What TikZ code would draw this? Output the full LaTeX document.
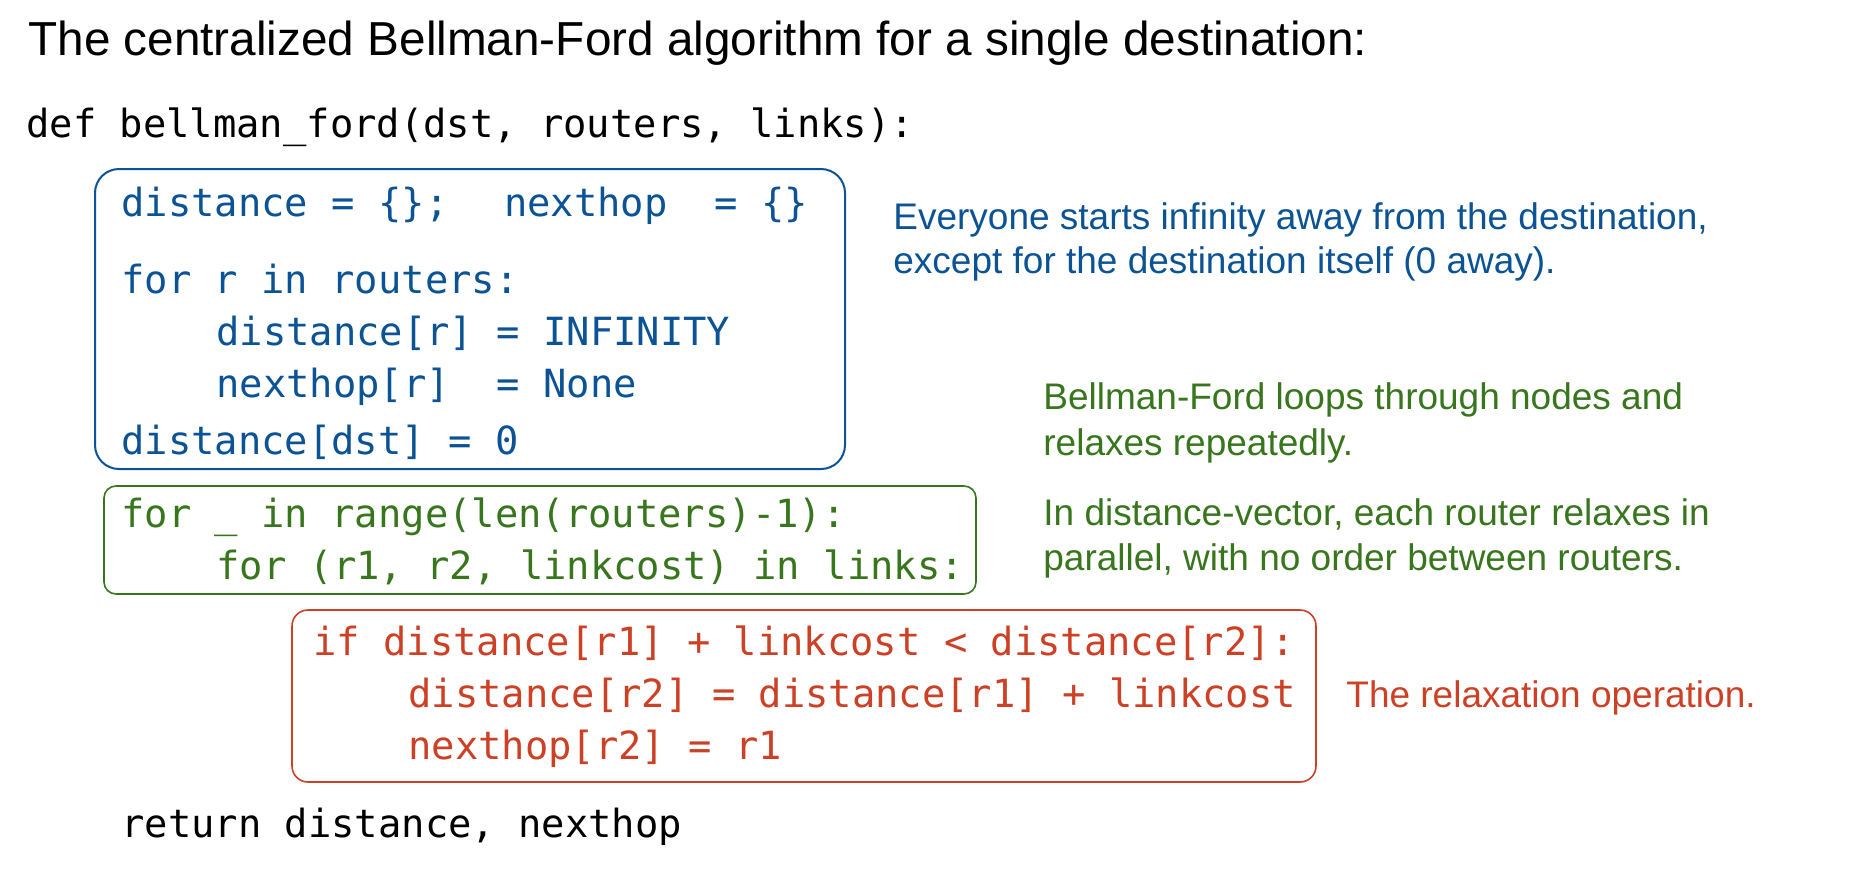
\documentclass[tikz,border=0pt]{standalone}
\usepackage{fontspec}
\setmainfont{Liberation Sans}
\setmonofont{DejaVu Sans Mono}
\definecolor{codeblue}{HTML}{0B5394}
\definecolor{codegreen}{HTML}{38761D}
\definecolor{codered}{HTML}{CC4125}
\tikzset{
  code/.style={anchor=base west, inner sep=0pt, font=\fontsize{19.4}{22}\selectfont\ttfamily},
  note/.style={anchor=base west, inner sep=0pt, font=\fontsize{18.5}{22}\selectfont},
}
\begin{document}
\begin{tikzpicture}[x=0.5pt, y=-0.5pt]
	\useasboundingbox (0,0) rectangle (1858,879);
	\node[anchor=base west, inner sep=0pt, font=\fontsize{23.85}{28}\selectfont] (title) at (28,55) {The centralized Bellman-Ford algorithm for a single destination:};
	\node[code] (def) at (26,137) {def bellman\_ford(dst, routers, links):};
	% initialisation
	\draw[codeblue, line width=1pt, rounded corners=12pt] (95,169) rectangle (845,469);
	\node[code, codeblue] (init) at (121,216) {distance = \{\};~\kern4.5pt~nexthop~ = \{\}};
	\node[code, codeblue] (forr) at (121,293) {for r in routers:};
	\node[code, codeblue] (dinf) at (216,345) {distance[r] = INFINITY};
	\node[code, codeblue] (hnone) at (216,397) {nexthop[r]~ = None};
	\node[code, codeblue] (dzero) at (121,454) {distance[dst] = 0};
	\node[note, codeblue] (initnote) at (893,229) {Everyone starts infinity away from the destination,};
	\node[note, codeblue] (initnote2) at (893,273) {except for the destination itself (0 away).};
	% loops
	\draw[codegreen, line width=0.8pt, rounded corners=6pt] (104,486) rectangle (976,594);
	\node[code, codegreen] (outer) at (121,527) {for \_ in range(len(routers)-1):};
	\node[code, codegreen] (inner) at (216,579) {for (r1, r2, linkcost) in links:};
	\node[note, codegreen] (loopnote) at (1043,409) {Bellman-Ford loops through nodes and};
	\node[note, codegreen] (loopnote2) at (1043,455) {relaxes repeatedly.};
	\node[note, codegreen] (dvnote) at (1043,525) {In distance-vector, each router relaxes in};
	\node[note, codegreen] (dvnote2) at (1043,570) {parallel, with no order between routers.};
	% relaxation
	\draw[codered, line width=0.8pt, rounded corners=8pt] (292,610) rectangle (1316,782);
	\node[code, codered] (test) at (313,655) {if distance[r1] + linkcost < distance[r2]:};
	\node[code, codered] (upd) at (408,707) {distance[r2] = distance[r1] + linkcost};
	\node[code, codered] (hop) at (408,759) {nexthop[r2] = r1};
	\node[note, codered] (relaxnote) at (1346,707) {The relaxation operation.};
	\node[code] (ret) at (121,837) {return distance, nexthop};
\end{tikzpicture}
\end{document}
